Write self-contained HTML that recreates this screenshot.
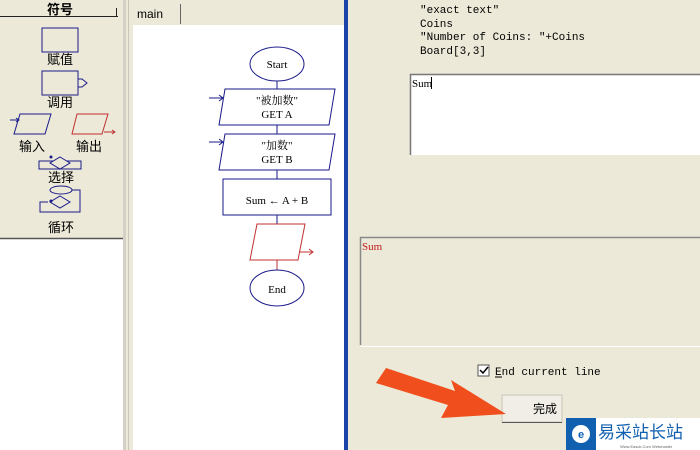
<!DOCTYPE html>
<html><head><meta charset="utf-8"><style>
html,body{margin:0;padding:0;width:700px;height:450px;overflow:hidden;background:#ece9d8}
svg{display:block}
text{font-family:"Liberation Serif","Noto Serif CJK SC",serif}
text.c,.c text{font-family:"Liberation Sans","Noto Sans CJK SC",sans-serif}
text.m,.m text{font-family:"Liberation Mono","Noto Sans CJK SC",monospace}
</style></head><body>
<svg width="700" height="450" viewBox="0 0 700 450" xmlns="http://www.w3.org/2000/svg">
<rect width="700" height="450" fill="#ece9d8"/>
<rect x="0" y="0" width="123" height="238" fill="#ece9d8"/>
<rect x="0" y="238" width="123" height="212" fill="#fff"/>
<line x1="0" y1="238.5" x2="123" y2="238.5" stroke="#555" stroke-width="1.5"/>
<line x1="0" y1="16.5" x2="118" y2="16.5" stroke="#222"/>
<line x1="116.5" y1="8" x2="116.5" y2="17" stroke="#222"/>
<text x="60" y="14" class="c" font-size="13" font-weight="bold" text-anchor="middle">符号</text>
<rect x="123" y="0" width="3" height="450" fill="#d4d0c8"/>
<rect x="42" y="28" width="36" height="24" fill="none" stroke="#1a1a8a"/>
<text x="60" y="64" class="c" font-size="13" text-anchor="middle">赋值</text>
<rect x="42" y="71" width="36" height="24" fill="none" stroke="#1a1a8a"/>
<path d="M78 79 h4 l5 4 l-5 4 h-4" fill="none" stroke="#1a1a8a"/>
<text x="60" y="107" class="c" font-size="13" text-anchor="middle">调用</text>
<polygon points="20,114 51,114 45,134 14,134" fill="none" stroke="#1a1a8a"/>
<path d="M10 120 h9 M16 118 l3 2 l-3 2" fill="none" stroke="#1a1a8a"/>
<text x="32" y="151" class="c" font-size="13" text-anchor="middle">输入</text>
<polygon points="77,114 108,114 102,134 72,134" fill="none" stroke="#c03030"/>
<path d="M104 132 h11 M112 130 l3 2 l-3 2" fill="none" stroke="#c03030"/>
<text x="89" y="151" class="c" font-size="13" text-anchor="middle">输出</text>
<rect x="39" y="161" width="42" height="8" fill="none" stroke="#1a1a8a"/>
<polygon points="60,157 70,163 60,169 50,163" fill="#ece9d8" stroke="#1a1a8a"/>
<circle cx="51" cy="157" r="1.5" fill="#1a1a8a"/>
<text x="61" y="182" class="c" font-size="13" text-anchor="middle">选择</text>
<ellipse cx="61" cy="190" rx="11" ry="4" fill="none" stroke="#1a1a8a"/>
<path d="M72 190 h8 v22 h-40 v-10 h8" fill="none" stroke="#1a1a8a"/>
<polygon points="60,196 70,202 60,208 50,202" fill="#ece9d8" stroke="#1a1a8a"/>
<circle cx="51" cy="201" r="1.5" fill="#1a1a8a"/>
<text x="61" y="232" class="c" font-size="13" text-anchor="middle">循环</text>
<rect x="126" y="0" width="219" height="450" fill="#ece9d8"/>
<rect x="133" y="25" width="212" height="425" fill="#fff"/>
<line x1="128.5" y1="0" x2="128.5" y2="450" stroke="#c8c4b8"/>
<rect x="131" y="3" width="49" height="22" fill="#ece9d8"/>
<line x1="180.5" y1="4" x2="180.5" y2="24" stroke="#666"/>
<text x="137" y="18" class="c" font-size="12">main</text>
<rect x="344" y="0" width="4" height="450" fill="#1c44a8"/>
<g stroke="#1a1a8a" fill="none">
<ellipse cx="277" cy="64" rx="27" ry="17"/>
<line x1="277" y1="81" x2="277" y2="89"/>
<polygon points="225,89 335,89 329,125 219,125"/>
<path d="M209 98 h14 M219 95 l4 3 l-4 3"/>
<line x1="277" y1="125" x2="277" y2="134"/>
<polygon points="225,134 335,134 329,170 219,170"/>
<path d="M209 142 h14 M219 139 l4 3 l-4 3"/>
<line x1="277" y1="170" x2="277" y2="179"/>
<rect x="223" y="179" width="108" height="36"/>
<line x1="277" y1="215" x2="277" y2="224"/>
</g>
<g stroke="#c03030" fill="none">
<polygon points="257,224 305,224 298,260 250,260"/>
<path d="M300 252 h13 M309 249 l4 3 l-4 3"/>
<line x1="277" y1="260" x2="277" y2="270"/>
</g>
<ellipse cx="277" cy="288" rx="27" ry="18" fill="none" stroke="#1a1a8a"/>
<g font-size="11" text-anchor="middle" fill="#000">
<text x="277" y="68">Start</text>
<text x="277" y="104">"被加数"</text>
<text x="277" y="118">GET A</text>
<text x="277" y="149">"加数"</text>
<text x="277" y="163">GET B</text>
<text x="277" y="204">Sum ← A + B</text>
<text x="277" y="293">End</text>
</g>
<g class="m" font-size="11" fill="#000">
<text x="420" y="13">"exact text"</text>
<text x="420" y="27">Coins</text>
<text x="420" y="40">"Number of Coins: "+Coins</text>
<text x="420" y="54">Board[3,3]</text>
</g>
<rect x="410" y="74" width="290" height="81" fill="#fff"/>
<path d="M410.5 155 V74.5 H700" fill="none" stroke="#777" stroke-width="1.5"/>
<text x="412" y="87" font-size="11">Sum</text>
<line x1="431.5" y1="77" x2="431.5" y2="89" stroke="#000"/>
<path d="M360.5 345 V237.5 H700" fill="none" stroke="#888" stroke-width="1.5"/>
<line x1="360" y1="346.5" x2="700" y2="346.5" stroke="#fff"/>
<text x="362" y="250" font-size="11" fill="#c02020">Sum</text>
<rect x="478" y="365" width="11" height="11" fill="#fff" stroke="#555"/>
<path d="M480 370 l3 3 l5 -6" fill="none" stroke="#000" stroke-width="1.5"/>
<text x="495" y="375" class="m" font-size="11">End current line</text>
<line x1="495" y1="377" x2="502" y2="377" stroke="#000"/>
<rect x="502" y="395" width="60" height="27" fill="#f0eee6" stroke="#c8c4b8"/>
<line x1="502" y1="422.5" x2="562" y2="422.5" stroke="#555"/>
<text x="545" y="413" class="c" font-size="12" text-anchor="middle">完成</text>
<polygon points="376,383 386,368 455,391 451,380 506,414 441,418 448,405" fill="#f04e1c"/>
<rect x="566" y="418" width="134" height="32" fill="#fff"/>
<rect x="566" y="418" width="30" height="32" fill="#1160b0"/>
<circle cx="581" cy="434" r="9" fill="#fff"/>
<text x="581" y="438" class="c" font-size="11" font-weight="bold" fill="#1160b0" text-anchor="middle">e</text>
<text x="598" y="438" class="c" font-size="17" fill="#1160b0">易采站长站</text>
<text x="620" y="448" class="c" font-size="4" fill="#666">Www.Easck.Com Webmaster</text>
</svg>
</body></html>
